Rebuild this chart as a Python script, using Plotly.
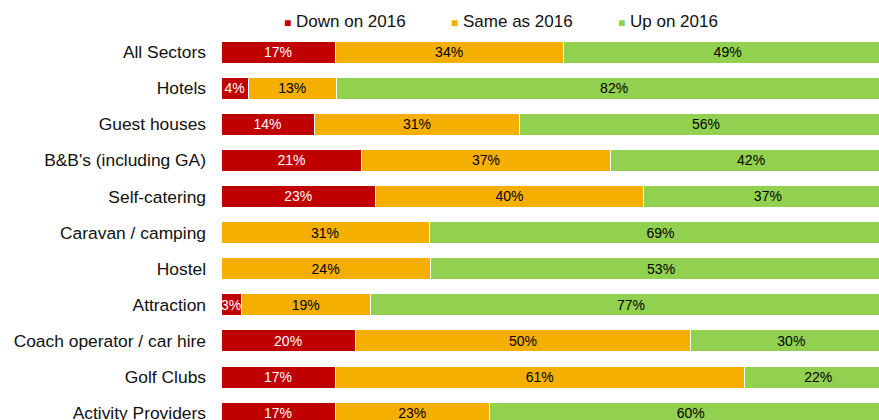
"""Stacked 100% bar chart: business compared with 2016, by sector."""

import plotly.graph_objects as go

categories = [
    "All Sectors", "Hotels", "Guest houses", "B&B's (including GA)",
    "Self-catering", "Caravan / camping", "Hostel", "Attraction",
    "Coach operator / car hire", "Golf Clubs", "Activity Providers",
]
down = [17, 4, 14, 21, 23, 0, 0, 3, 20, 17, 17]
same = [34, 13, 31, 37, 40, 31, 24, 19, 50, 61, 23]
up = [49, 82, 56, 42, 37, 69, 53, 77, 30, 22, 60]

series = [
    ("Down on 2016", down, "#C00000", "white"),
    ("Same as 2016", same, "#F5AF00", "black"),
    ("Up on 2016", up, "#92D050", "black"),
]

FONT = "Liberation Sans, Arial, sans-serif"

fig = go.Figure()
for name, values, color, text_color in series:
    fig.add_trace(go.Bar(
        y=categories, x=values,
        orientation="h",
        name=name,
        marker=dict(color=color, line=dict(color="white", width=1)),
        text=[f"{v}%" if v else "" for v in values],
        textposition="inside",
        insidetextanchor="middle",
        textangle=0,
        constraintext="none",
        textfont=dict(size=14, color=text_color, family=FONT),
        showlegend=False,
        hovertemplate=f"%{{y}}<br>{name}: %{{x}}%<extra></extra>",
    ))

# Legend entries: the square sits in the label so it hugs the text like
# the source; the real legend symbol is made transparent.
for name, _, color, _ in series:
    fig.add_trace(go.Scatter(
        x=[None], y=[None], mode="markers",
        name=f'<span style="color:{color};font-size:12px">■</span> {name}',
        marker=dict(symbol="square", size=8, color="rgba(0,0,0,0)",
                    line=dict(width=0)),
    ))

fig.update_layout(
    width=879, height=420,
    barmode="stack", barnorm="percent", bargap=0.39,
    plot_bgcolor="white", paper_bgcolor="white",
    margin=dict(l=221, r=0, t=34, b=0, autoexpand=False),
    font=dict(family=FONT, size=17.4, color="#111111"),
    uniformtext=dict(minsize=14, mode="show"),
    legend=dict(
        orientation="h", traceorder="normal",
        x=0.035, xanchor="left", y=1.034, yanchor="middle",
        font=dict(size=17), itemwidth=30, entrywidth=122,
    ),
)
# bars run past the right edge and the last row is cut, as in the source
fig.update_xaxes(
    range=[0, 100 * 658 / 671], visible=False, showgrid=False, zeroline=False,
)
fig.update_yaxes(
    categoryorder="array", categoryarray=categories,
    range=[10.19, -0.5], showgrid=False, zeroline=False, showline=False,
    ticks="", ticklabelstandoff=14, automargin=False,
)

# drop the page's default body margin so the figure fills the window
fig.write_html(
    "out.html",
    config={"displayModeBar": False},
    post_script="document.body.style.margin='0';"
                "document.body.style.overflow='hidden';",
)
